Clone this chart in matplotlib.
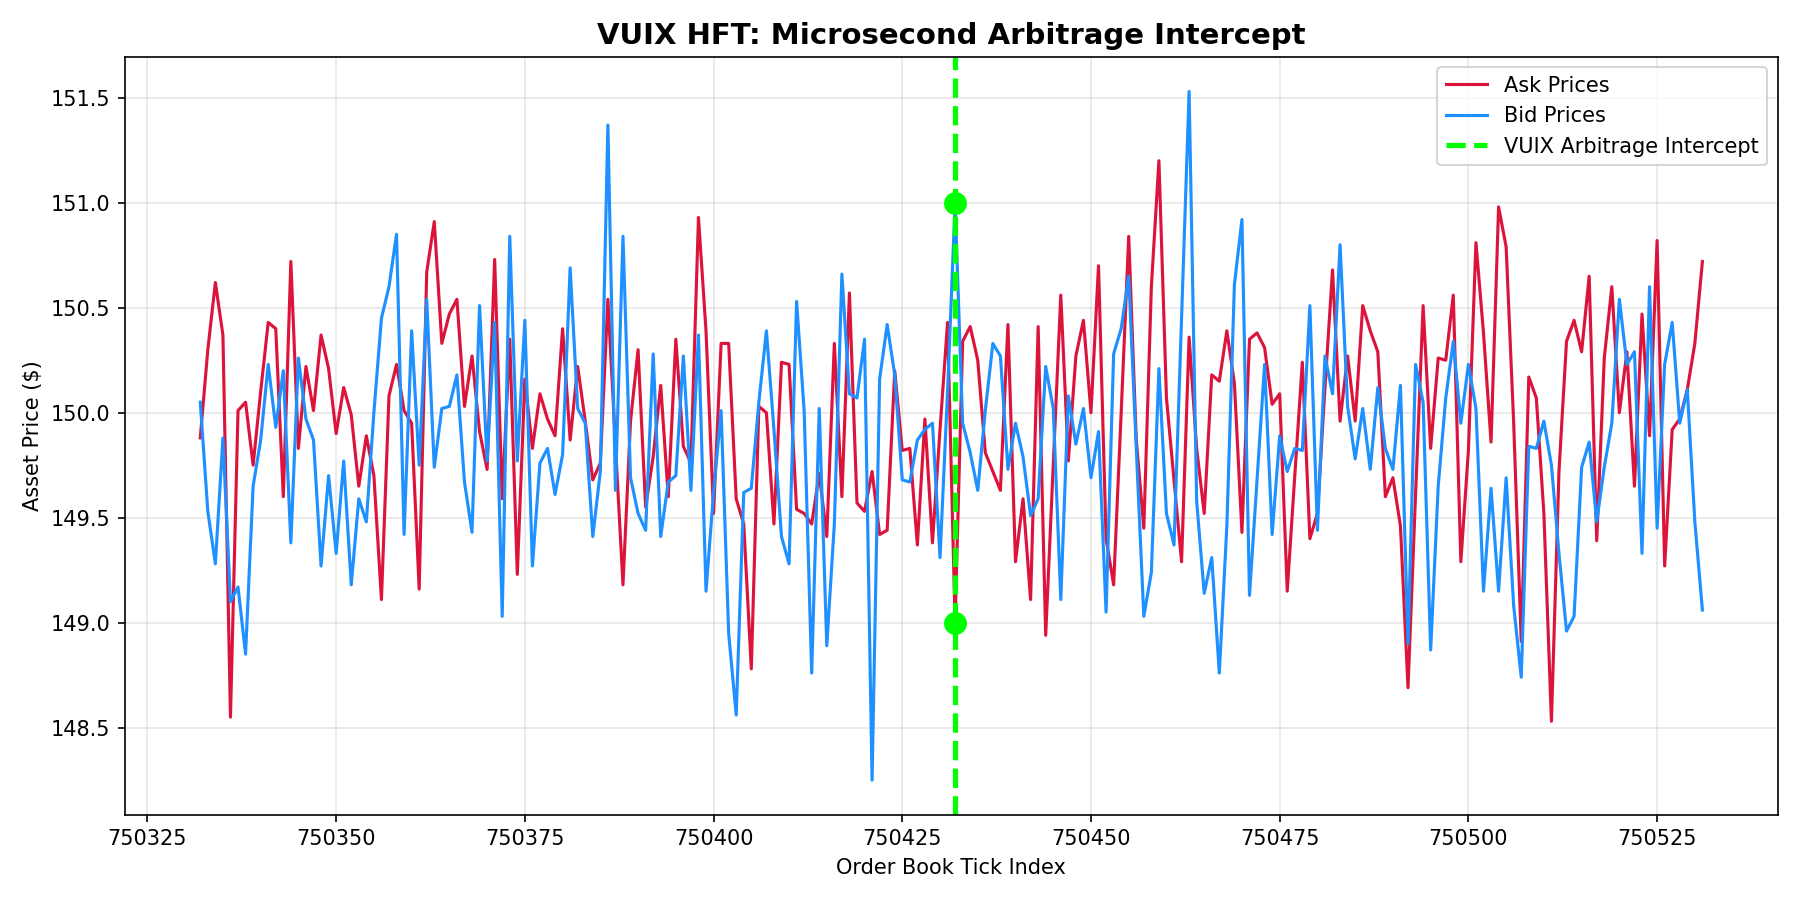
import numpy as np
import matplotlib
matplotlib.use("Agg")
import matplotlib.pyplot as plt

# =============================
#  Data
# =============================
first_tick = 750332
n_ticks = 200
ticks = np.arange(first_tick, first_tick + n_ticks)

ask_prices = [
    149.88, 150.30, 150.62, 150.37, 148.55, 150.01, 150.05, 149.75, 150.10, 150.43,
    150.40, 149.60, 150.72, 149.83, 150.22, 150.01, 150.37, 150.21, 149.90, 150.12,
    149.99, 149.65, 149.89, 149.70, 149.11, 150.08, 150.23, 150.01, 149.95, 149.16,
    150.67, 150.91, 150.33, 150.47, 150.54, 150.03, 150.27, 149.91, 149.73, 150.73,
    149.59, 150.35, 149.23, 150.16, 149.83, 150.09, 149.97, 149.89, 150.40, 149.87,
    150.22, 149.96, 149.68, 149.76, 150.54, 149.85, 149.18, 149.96, 150.30, 149.55,
    149.79, 150.13, 149.60, 150.35, 149.84, 149.76, 150.93, 150.39, 149.52, 150.33,
    150.33, 149.59, 149.47, 148.78, 150.03, 150.00, 149.47, 150.24, 150.23, 149.54,
    149.52, 149.47, 149.71, 149.41, 150.33, 149.60, 150.57, 149.57, 149.53, 149.72,
    149.42, 149.44, 150.20, 149.82, 149.83, 149.37, 149.97, 149.38, 149.92, 150.43,
    149.00, 150.34, 150.41, 150.25, 149.81, 149.72, 149.63, 150.42, 149.29, 149.59,
    149.11, 150.41, 148.94, 149.75, 150.56, 149.77, 150.27, 150.44, 150.00, 150.70,
    149.40, 149.18, 150.00, 150.84, 149.87, 149.45, 150.60, 151.20, 150.07, 149.68,
    149.29, 150.36, 149.83, 149.52, 150.18, 150.15, 150.39, 150.14, 149.43, 150.35,
    150.38, 150.31, 150.04, 150.09, 149.15, 149.70, 150.24, 149.40, 149.52, 150.12,
    150.68, 149.96, 150.27, 149.96, 150.51, 150.39, 150.29, 149.60, 149.69, 149.46,
    148.69, 149.61, 150.51, 149.83, 150.26, 150.25, 150.56, 149.29, 149.82, 150.81,
    150.38, 149.86, 150.98, 150.79, 149.95, 148.91, 150.17, 150.07, 149.52, 148.53,
    149.72, 150.34, 150.44, 150.29, 150.65, 149.39, 150.26, 150.60, 150.00, 150.29,
    149.65, 150.47, 149.89, 150.82, 149.27, 149.92, 149.97, 150.11, 150.33, 150.72,
]

bid_prices = [
    150.05, 149.53, 149.28, 149.88, 149.10, 149.17, 148.85, 149.65, 149.87, 150.23,
    149.93, 150.20, 149.38, 150.26, 149.97, 149.87, 149.27, 149.70, 149.33, 149.77,
    149.18, 149.59, 149.48, 150.00, 150.45, 150.60, 150.85, 149.42, 150.39, 149.75,
    150.54, 149.74, 150.02, 150.03, 150.18, 149.67, 149.43, 150.51, 149.77, 150.43,
    149.03, 150.84, 149.77, 150.44, 149.27, 149.76, 149.83, 149.61, 149.80, 150.69,
    150.02, 149.95, 149.41, 149.72, 151.37, 149.63, 150.84, 149.69, 149.52, 149.44,
    150.28, 149.41, 149.67, 149.70, 150.27, 149.63, 150.37, 149.15, 149.62, 150.01,
    148.95, 148.56, 149.62, 149.64, 150.05, 150.39, 149.92, 149.41, 149.28, 150.53,
    150.01, 148.76, 150.02, 148.89, 149.47, 150.66, 150.09, 150.07, 150.35, 148.25,
    150.16, 150.42, 150.18, 149.68, 149.67, 149.87, 149.92, 149.95, 149.31, 150.10,
    151.00, 149.95, 149.81, 149.63, 150.01, 150.33, 150.27, 149.73, 149.95, 149.79,
    149.51, 149.59, 150.22, 150.02, 149.11, 150.08, 149.85, 150.02, 149.69, 149.91,
    149.05, 150.28, 150.40, 150.65, 149.83, 149.03, 149.24, 150.21, 149.52, 149.37,
    150.45, 151.53, 149.58, 149.14, 149.31, 148.76, 149.46, 150.61, 150.92, 149.13,
    149.68, 150.23, 149.42, 149.89, 149.72, 149.83, 149.82, 150.51, 149.44, 150.27,
    150.09, 150.80, 150.03, 149.78, 150.02, 149.73, 150.12, 149.83, 149.73, 150.13,
    148.90, 150.23, 150.05, 148.87, 149.65, 150.07, 150.34, 149.95, 150.23, 150.02,
    149.15, 149.64, 149.15, 149.69, 149.08, 148.74, 149.84, 149.83, 149.96, 149.75,
    149.33, 148.96, 149.03, 149.74, 149.86, 149.48, 149.74, 149.95, 150.54, 150.23,
    150.29, 149.33, 150.60, 149.45, 150.23, 150.43, 149.95, 150.11, 149.48, 149.06,
]

intercept_tick = 750432
intercept_prices = [151.0, 149.0]


# =============================
#  Plot
# =============================
fig, ax = plt.subplots(figsize=(12, 6), dpi=150)

ax.plot(ticks, ask_prices, color="crimson", linewidth=1.5, label="Ask Prices")
ax.plot(ticks, bid_prices, color="dodgerblue", linewidth=1.5, label="Bid Prices")
ax.axvline(intercept_tick, color="lime", linestyle="--", linewidth=2.5,
           label="VUIX Arbitrage Intercept")
ax.plot([intercept_tick] * len(intercept_prices), intercept_prices, "o",
        color="lime", markersize=10, zorder=5)

ax.set_title("VUIX HFT: Microsecond Arbitrage Intercept", fontsize=14, fontweight="bold")
ax.set_xlabel("Order Book Tick Index")
ax.set_ylabel("Asset Price ($)")
ax.grid(True, alpha=0.3)
ax.legend(loc="upper right")

plt.tight_layout()
plt.savefig("out.png", dpi=150)
